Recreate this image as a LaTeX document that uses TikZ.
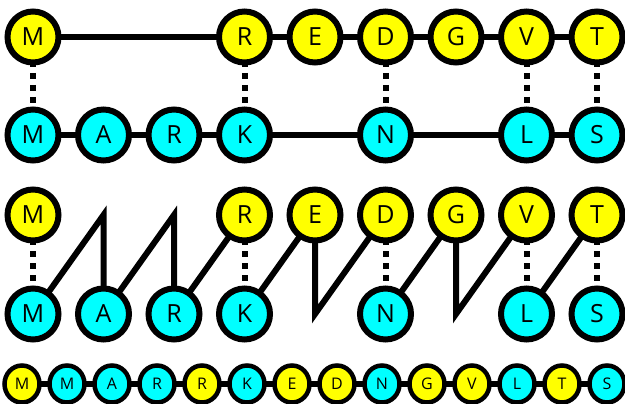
\documentclass[tikz,border=0pt]{standalone}
\usepackage{fontspec}
\setmainfont{Open Sans}
\usetikzlibrary{shapes.geometric,backgrounds}
\definecolor{sunyellow}{RGB}{255,255,0}
\definecolor{aqua}{RGB}{0,255,255}
\begin{document}
\begin{tikzpicture}[x=1pt,y=-1pt,
  big/.style={circle,draw,line width=6pt,minimum size=51pt,inner sep=0pt,
    font=\fontsize{25}{25}\selectfont},
  upper/.style={fill=sunyellow},
  lower/.style={fill=aqua},
  small/.style={ellipse,draw,line width=4.5pt,minimum width=35pt,minimum height=37pt,
    inner sep=0pt,font=\fontsize{16}{16}\selectfont},
  link/.style={line width=5.5pt},
  zig/.style={line width=6pt},
  pair/.style={line width=6pt,dash pattern=on 6pt off 6pt}]
\useasboundingbox (0,0) rectangle (625,404);

% ---- first panel: two sequences with matched letters ----
\node[big,upper] (aM) at (33,37)    {M};
\node[big,upper] (aR) at (244.5,37) {R};
\node[big,upper] (aE) at (315,37)   {E};
\node[big,upper] (aD) at (385.5,37) {D};
\node[big,upper] (aG) at (456,37)   {G};
\node[big,upper] (aV) at (526.5,37) {V};
\node[big,upper] (aT) at (597,37)   {T};

\node[big,lower] (bM) at (33,135)    {M};
\node[big,lower] (bA) at (103.5,135) {A};
\node[big,lower] (bR) at (174,135)   {R};
\node[big,lower] (bK) at (244.5,135) {K};
\node[big,lower] (bN) at (385.5,135) {N};
\node[big,lower] (bL) at (526.5,135) {L};
\node[big,lower] (bS) at (597,135)   {S};

% ---- second panel: the same sequences, zigzag order ----
\node[big,upper] (cM) at (33,215)    {M};
\node[big,upper] (cR) at (244.5,215) {R};
\node[big,upper] (cE) at (315,215)   {E};
\node[big,upper] (cD) at (385.5,215) {D};
\node[big,upper] (cG) at (456,215)   {G};
\node[big,upper] (cV) at (526.5,215) {V};
\node[big,upper] (cT) at (597,215)   {T};

\node[big,lower] (dM) at (33,314)    {M};
\node[big,lower] (dA) at (103.5,314) {A};
\node[big,lower] (dR) at (174,314)   {R};
\node[big,lower] (dK) at (244.5,314) {K};
\node[big,lower] (dN) at (385.5,314) {N};
\node[big,lower] (dL) at (526.5,314) {L};
\node[big,lower] (dS) at (597,314)   {S};

\coordinate (p1) at (103.5,215);
\coordinate (p2) at (174,215);
\coordinate (q4) at (315,314);
\coordinate (q6) at (456,314);

% ---- merged sequence ----
\foreach \name/\txt/\kind [count=\i from 0] in
  {m0/M/upper, m1/M/lower, m2/A/lower, m3/R/lower, m4/R/upper, m5/K/lower,
   m6/E/upper, m7/D/upper, m8/N/lower, m9/G/upper, m10/V/upper, m11/L/lower,
   m12/T/upper, m13/S/lower}
  \node[small,\kind] (\name) at ({22+45*\i},384) {\txt};

\begin{scope}[on background layer]
  % first panel
  \draw[link] (aM.center) -- (aR.center) -- (aE.center) -- (aD.center)
              -- (aG.center) -- (aV.center) -- (aT.center);
  \draw[link] (bM.center) -- (bA.center) -- (bR.center) -- (bK.center)
              -- (bN.center) -- (bL.center) -- (bS.center);
  \foreach \u/\v in {aM/bM, aR/bK, aD/bN, aV/bL, aT/bS}
    \draw[pair] (\u.center) -- (\v.center);
  % second panel
  \draw[zig] (dM.center) -- (p1) -- (dA.center) -- (p2) -- (dR.center) -- (cR.center);
  \draw[zig] (dK.center) -- (cE.center) -- (q4) -- (cD.center);
  \draw[zig] (dN.center) -- (cG.center) -- (q6) -- (cV.center);
  \draw[zig] (dL.center) -- (cT.center);
  \foreach \u/\v in {cM/dM, cR/dK, cD/dN, cV/dL, cT/dS}
    \draw[pair] (\u.center) -- (\v.center);
  % merged sequence
  \draw[link] (m0.center) -- (m13.center);
\end{scope}
\end{tikzpicture}
\end{document}
